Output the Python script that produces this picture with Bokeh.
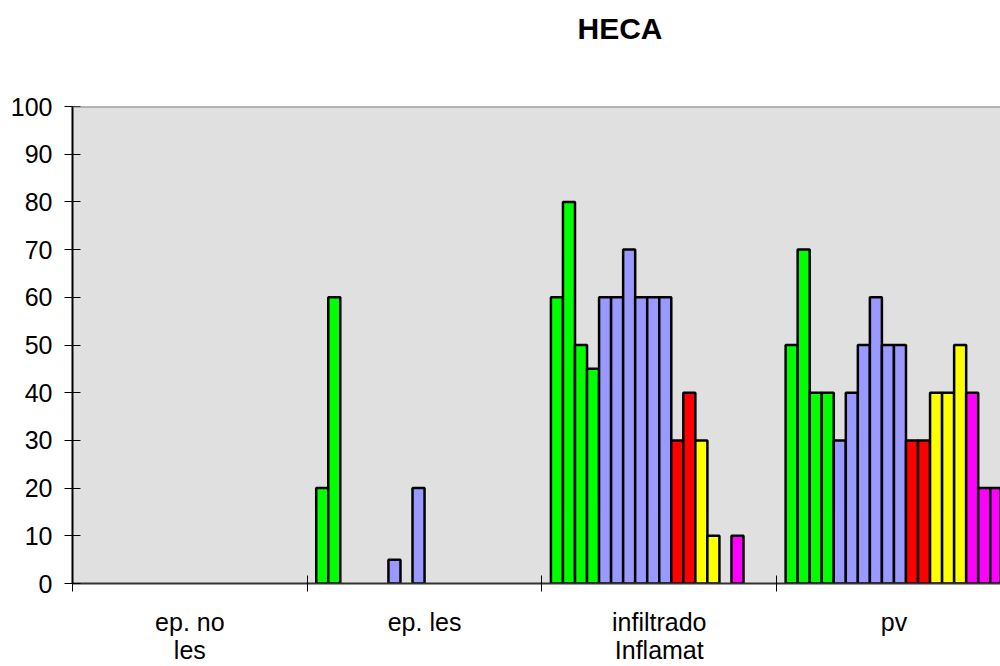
import numpy as np
from bokeh.plotting import figure
from bokeh.models import ColumnDataSource, Range1d, FixedTicker, Span, Title
from bokeh.embed import file_html
from bokeh.resources import INLINE

# --- data -------------------------------------------------------------
categories = ["ep. no\nles", "ep. les", "infiltrado\nInflamat", "pv"]

# 18 series per group; None = no bar
ep_no_les = [None] * 18
ep_les = [20, 60, None, None, None, None, 5, None, 20,
          None, None, None, None, None, None, None, None, None]
infiltrado = [60, 80, 50, 45, 60, 60, 70, 60, 60, 60, 30, 40, 30, 10,
              None, 10, None, None]
pv = [50, 70, 40, 40, 30, 40, 50, 60, 50, 50, 30, 30, 40, 40, 50, 40, 20, 20]

series_colors = (["#00ff00"] * 4 + ["#9999ff"] * 6 + ["#ff0000"] * 2 +
                 ["#ffff00"] * 3 + ["#ff00ff"] * 3)

y_ticks = list(range(0, 101, 10))

# --- layout of the clustered bars ---------------------------------------
groups = [ep_no_les, ep_les, infiltrado, pv]
n_series = len(series_colors)
gap = 1.5                              # gap between clusters, in bar widths
bar_w = 1.0 / (n_series + gap)

xs, tops, cols = [], [], []
for gi, vals in enumerate(groups):
    for si, v in enumerate(vals):
        if v is None:
            continue
        xs.append(gi + bar_w * (gap / 2 + si + 0.5))
        tops.append(v)
        cols.append(series_colors[si])

src = ColumnDataSource(dict(x=xs, top=tops, color=cols))

FONT = "Liberation Sans"
W, H = 1000, 666
left, top, bottom = 72, 106, 83
cat_px = 234.7                          # pixel width of one category
x_end = (W - left) / cat_px

p = figure(width=W, height=H, output_backend="svg", toolbar_location=None,
           x_range=Range1d(0, x_end), y_range=Range1d(0, 100),
           min_border_left=left, min_border_right=0,
           min_border_top=top, min_border_bottom=bottom)
p.title_location = None
p.background_fill_color = "#e0e0e0"
p.border_fill_color = "white"
p.outline_line_color = None
p.xgrid.visible = False
p.ygrid.visible = False

# blank band between the plot area and the title
p.add_layout(Title(text=" ", text_font=FONT, text_font_size="30px",
                   standoff=24), "above")
# chart title
p.add_layout(Title(text="HECA", align="left", offset=577 - left,
                   standoff=6, text_font=FONT, text_font_size="30px",
                   text_font_style="bold", text_color="black"), "above")

p.vbar(x="x", top="top", bottom=0, width=bar_w, source=src,
       fill_color="color", line_color="black", line_width=2.5)

# top edge of the plot area
p.add_layout(Span(location=100, dimension="width", line_color="#808080",
                  line_width=2))

# y axis
p.yaxis.ticker = FixedTicker(ticks=y_ticks)
p.yaxis.axis_line_color = "black"
p.yaxis.axis_line_width = 2
p.yaxis.major_tick_in = 8
p.yaxis.major_tick_out = 8
p.yaxis.major_tick_line_width = 1
p.yaxis.minor_tick_line_color = None
p.yaxis.major_label_standoff = 12
p.yaxis.major_label_text_font = FONT
p.yaxis.major_label_text_font_size = "25px"
p.yaxis.major_label_text_color = "black"

# x axis: labels centred in each category, tick marks on the boundaries
centers = [i + 0.5 for i in range(len(categories))]
bounds = list(range(len(categories)))
p.xaxis.ticker = FixedTicker(ticks=centers, minor_ticks=bounds)
p.xaxis.major_label_overrides = {c: lab for c, lab in zip(centers, categories)}
p.xaxis.axis_line_color = "#333333"
p.xaxis.axis_line_width = 2
p.xaxis.major_tick_line_color = None
p.xaxis.major_tick_in = 0
p.xaxis.major_tick_out = 0
p.xaxis.minor_tick_line_color = "black"
p.xaxis.minor_tick_in = 8
p.xaxis.minor_tick_out = 8
p.xaxis.major_label_standoff = 16
p.xaxis.major_label_text_font = FONT
p.xaxis.major_label_text_font_size = "25px"
p.xaxis.major_label_text_line_height = 1.0
p.xaxis.major_label_text_color = "black"

open("out.html", "w").write(file_html(p, INLINE))
